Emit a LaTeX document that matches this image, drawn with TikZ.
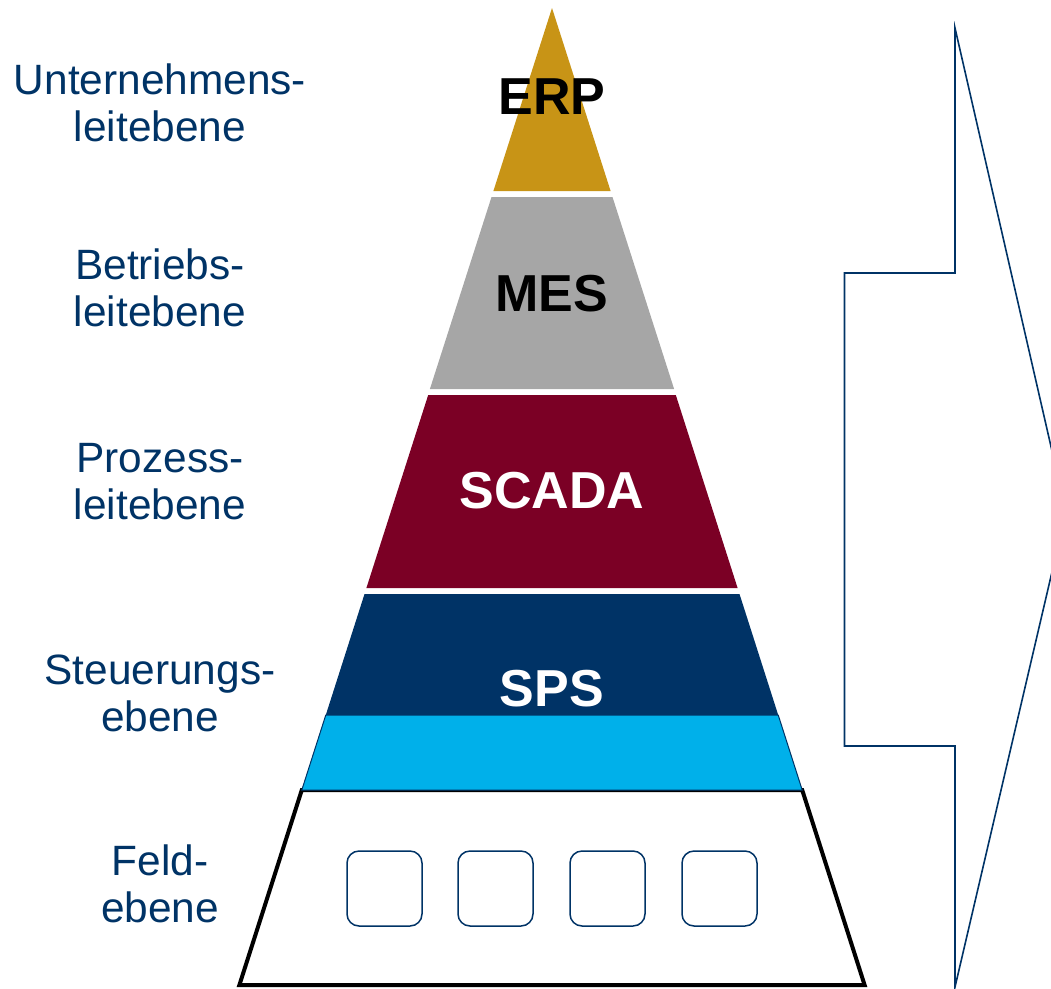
\documentclass[tikz,border=0pt]{standalone}
\usepackage{fontspec}
\setmainfont{Liberation Sans}
\definecolor{navy}{RGB}{0,51,102}
\definecolor{erpgold}{RGB}{200,148,22}
\definecolor{mesgray}{RGB}{166,166,166}
\definecolor{scadared}{RGB}{123,0,37}
\definecolor{fieldblue}{RGB}{0,176,234}
\begin{document}
\begin{tikzpicture}[x=1pt,y=-1pt,
  layertext/.style={font=\fontsize{52}{60}\selectfont\bfseries, anchor=base, inner sep=0pt},
  sidelabel/.style={font=\fontsize{42.4}{47}\selectfont, text=navy, align=center, anchor=base, inner sep=0pt},
  fieldbox/.style={draw=navy, line width=1.5pt, rounded corners=12pt, minimum size=75pt, inner sep=0pt},
  arrowline/.style={draw=navy, line width=1.6pt, line join=miter}]
\useasboundingbox (0,0) rectangle (1051,988);
\clip (0,0) rectangle (1051,988);

% pyramid bands
\fill[erpgold] (552,8) -- (610.6,191) -- (493.4,191) -- cycle;
\fill[mesgray] (491.5,197) -- (612.5,197) -- (674.1,389) -- (429.9,389) -- cycle;
\fill[scadared] (428.2,395) -- (675.8,395) -- (737.6,588) -- (366.4,588) -- cycle;
\fill[navy] (364.5,594) -- (739.5,594) -- (778.2,715) -- (325.8,715) -- cycle;

% field level
\draw[black, line width=4pt, fill=white] (301.8,790) -- (802.2,790) -- (864.6,985) -- (239.4,985) -- cycle;
\draw[navy, line width=1pt, fill=fieldblue] (325.8,715) -- (778.2,715) -- (802.2,790) -- (301.8,790) -- cycle;

% layer names
\node[layertext, text=black] (erp) at (552,114) {ERP};
\node[layertext, text=black] (mes) at (552,311) {MES};
\node[layertext, text=white] (scada) at (552,508) {SCADA};
\node[layertext, text=white] (sps) at (552,706) {SPS};

% field devices
\node[fieldbox] (dev1) at (384.5,888.5) {};
\node[fieldbox] (dev2) at (495.5,888.5) {};
\node[fieldbox] (dev3) at (607.5,888.5) {};
\node[fieldbox] (dev4) at (719.5,888.5) {};

% level names (anchor base = baseline of the second line)
\node[sidelabel] (l1) at (160,141) {Unternehmens-\\leitebene};
\node[sidelabel] (l2) at (160,326) {Betriebs-\\leitebene};
\node[sidelabel] (l3) at (160,519) {Prozess-\\leitebene};
\node[sidelabel] (l4) at (160,731) {Steuerungs-\\ebene};
\node[sidelabel] (l5) at (160,922) {Feld-\\ebene};

% bracket arrow
\draw[arrowline] (955,28) -- (955,273) -- (844.5,273) -- (844.5,746) -- (955,746) -- (955,987)
  -- (1066,512) -- cycle;
\end{tikzpicture}
\end{document}
